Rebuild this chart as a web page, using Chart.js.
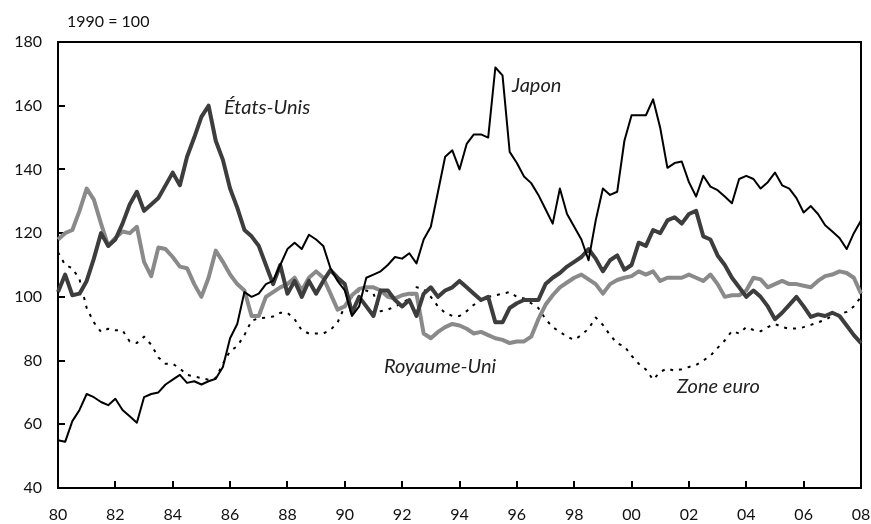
<!DOCTYPE html>
<html>
<head>
<meta charset="utf-8">
<script src="https://cdn.jsdelivr.net/npm/chart.js@4/dist/chart.umd.min.js"></script>
<style>
  html, body { margin: 0; padding: 0; background: #fff; }
  #wrap { width: 871px; height: 524px; position: relative; }
</style>
</head>
<body>
<div id="wrap"><canvas id="c" width="871" height="524"></canvas></div>
<script>
// Quarterly observations, 1980 T1 to 2008 T1 (index 1990 = 100)
const quarters = [];
for (let yr = 1980; yr <= 2008; yr++) {
  for (let q = 1; q <= 4; q++) {
    if (yr === 2008 && q > 1) break;
    quarters.push(yr + ' T' + q);
  }
}
const yearTickLabels = ['80','82','84','86','88','90','92','94','96','98','00','02','04','06','08'];

const etatsUnis = [
  101.5, 107, 100.5, 101,
  105, 112, 120, 116,
  118, 123, 129, 133,
  127, 129, 131, 135,
  139, 135, 144, 150,
  156.5, 160, 149, 143,
  134, 128, 121, 119,
  116, 110, 104, 110,
  101, 105, 100, 105,
  101, 105, 108.4, 106,
  104, 95, 100, 97,
  94, 102, 102, 99,
  97, 99, 94, 101,
  103, 100, 102, 103,
  105, 103, 101, 99,
  100, 92, 92, 96.5,
  98, 99, 99, 99,
  104, 106, 107.5, 109.5,
  111, 112.5, 115, 112,
  108, 111.5, 113, 108.5,
  110, 117, 116, 121,
  120, 124, 125, 123,
  126, 127, 119, 118,
  113, 110, 106, 103,
  100, 102, 100, 97,
  93, 95, 97.5, 100,
  97, 93.7, 94.5, 94,
  95, 94, 91, 88,
  85.5
];

const royaumeUni = [
  118, 120, 121, 127,
  134, 130.5, 123, 116,
  118.5, 120.5, 120, 122,
  111, 106.5, 115.5, 115,
  112.5, 109.5, 109, 104,
  100, 106, 114.5, 111,
  107, 104, 102, 94,
  94, 100, 101.5, 103,
  104, 106, 102, 106,
  108, 106, 101, 96,
  97, 100.5, 102.5, 103,
  103, 102, 100, 99.5,
  100.5, 101, 101, 88.5,
  87, 89, 90.5, 91.5,
  91, 90, 88.5, 89,
  88, 87, 86.5, 85.5,
  86, 86, 87.5, 93,
  97.5, 100.5, 103, 104.5,
  106, 107, 105.5, 104,
  101, 104, 105.3, 106,
  106.5, 108, 107, 108,
  105, 106, 106, 106,
  107, 106, 105, 107,
  104, 100, 100.5, 100.5,
  102, 106, 105.5, 103,
  104, 105, 104, 104,
  103.5, 103, 105, 106.5,
  107, 108, 107.5, 106,
  101
];

const japon = [
  55, 54.5, 61, 64.5,
  69.5, 68.5, 67, 66,
  68, 64.5, 62.5, 60.5,
  68.5, 69.5, 70, 72.5,
  74, 75.5, 73, 73.5,
  72.5, 73.5, 74.3, 78,
  87, 91.5, 101.5, 100,
  101, 104, 105, 110,
  115, 117, 115, 119.5,
  118, 116, 109, 105,
  102, 94, 97, 106,
  107, 108, 110, 112.5,
  112, 113.7, 110.5, 118,
  122, 133, 144, 146,
  140, 148, 151, 151,
  150, 172, 169.5, 145.5,
  142, 137.8, 135.7, 132,
  127.5, 123, 134, 126,
  122, 118, 111.5, 124,
  134, 132, 133, 149,
  157, 157, 157, 162,
  153, 140.5, 142, 142.5,
  136, 131.5, 138, 134.6,
  133.5, 131.5, 129.4, 137,
  138, 137, 134, 136,
  139, 135, 134, 131,
  126.5, 128.5, 126, 122.5,
  120.5, 118.5, 115, 120,
  124
];

const zoneEuro = [
  114, 110, 109, 105.5,
  96.5, 92, 89, 90,
  89.5, 89.5, 86, 85.5,
  87.5, 85, 81, 79,
  79, 77.5, 75.5, 75,
  74.5, 74, 74.5, 79,
  83, 84.5, 88, 92.5,
  93.3, 93.5, 93.8, 95,
  95, 93, 89.5, 88.5,
  88.5, 88.5, 89.6, 92,
  97, 100, 102, 102,
  101, 95.5, 96, 97,
  98, 99.5, 103, 102.5,
  100, 97, 95, 94,
  94, 95.5, 97.5, 99,
  100, 100.5, 101, 101.5,
  100, 99.5, 98, 96.5,
  93, 90.5, 89, 87.5,
  86.5, 88, 90, 93.5,
  91.2, 88, 85.4, 84.5,
  81.5, 79, 77.2, 74,
  76.5, 77.5, 76.8, 77.3,
  78, 78.6, 80, 81.5,
  84, 86.3, 89.3, 88.5,
  90.5, 89.6, 89.2, 90.5,
  91.5, 90.5, 90, 90.1,
  90.5, 91.2, 92, 92.8,
  94, 94.6, 95.3, 97,
  100
];

const FONT = 'Lato, "Open Sans", "DejaVu Sans", sans-serif';
const INK = '#111111';

const notesPlugin = {
  id: 'notes',
  afterDraw(chart) {
    const { ctx } = chart;
    ctx.save();
    ctx.fillStyle = INK;
    ctx.font = '16px ' + FONT;
    ctx.textBaseline = 'alphabetic';
    ctx.textAlign = 'left';
    ctx.fillText('1990 = 100', 67, 27);

    ctx.font = 'italic 20px ' + FONT;
    ctx.fillStyle = '#222';
    const notes = [
      [0, 224, 114],
      [2, 512, 92],
      [1, 384, 373],
      [3, 677, 393]
    ];
    notes.forEach(([di, px, py]) => {
      ctx.fillText(chart.data.datasets[di].label, px, py);
    });
    ctx.restore();
  }
};

const frameBorder = { display: true, color: '#000', width: 2 };

new Chart(document.getElementById('c'), {
  type: 'line',
  data: {
    labels: quarters,
    datasets: [
      { label: 'États-Unis', data: etatsUnis, borderColor: '#3d3d3d', borderWidth: 4, order: 2 },
      { label: 'Royaume-Uni', data: royaumeUni, borderColor: '#8a8a8a', borderWidth: 4, order: 3 },
      { label: 'Japon', data: japon, borderColor: '#000', borderWidth: 2, order: 1 },
      { label: 'Zone euro', data: zoneEuro, borderColor: '#000', borderWidth: 2, borderDash: [3, 6], order: 4 }
    ]
  },
  options: {
    responsive: false,
    animation: false,
    devicePixelRatio: 1,
    layout: { autoPadding: false, padding: { top: 42, right: 10, left: 0, bottom: 0 } },
    elements: { point: { radius: 0 }, line: { tension: 0, borderCapStyle: 'butt', borderJoinStyle: 'round' } },
    plugins: { legend: { display: false }, tooltip: { enabled: false }, title: { display: false } },
    scales: {
      x: {
        type: 'category',
        position: 'bottom',
        border: frameBorder,
        grid: {
          display: true,
          drawOnChartArea: false,
          drawTicks: true,
          tickLength: -7,
          lineWidth: 2,
          color: c => (c.index % 8 === 0 ? '#000' : 'rgba(0,0,0,0)')
        },
        ticks: {
          autoSkip: false,
          maxRotation: 0,
          minRotation: 0,
          padding: 24,
          color: INK,
          font: { family: FONT, size: 16 },
          callback: (v, i) => (i % 8 === 0 ? yearTickLabels[i / 8] : '')
        },
        afterFit: s => { s.height = 36; s.paddingLeft = 0; s.paddingRight = 0; }
      },
      y: {
        position: 'left',
        min: 40, max: 180,
        border: frameBorder,
        grid: {
          display: true,
          drawOnChartArea: false,
          drawTicks: true,
          tickLength: -7,
          lineWidth: 2,
          color: '#000'
        },
        ticks: {
          stepSize: 20,
          padding: 23,
          color: INK,
          font: { family: FONT, size: 16 }
        },
        afterFit: s => { s.width = 58; s.paddingTop = 0; s.paddingBottom = 0; }
      },
      xTop: {
        type: 'category',
        position: 'top',
        display: true,
        border: frameBorder,
        grid: { display: false },
        ticks: { display: false },
        afterFit: s => { s.height = 0; s.paddingLeft = 0; s.paddingRight = 0; }
      },
      yRight: {
        type: 'linear',
        position: 'right',
        display: true,
        min: 40, max: 180,
        border: frameBorder,
        grid: { display: false },
        ticks: { display: false },
        afterFit: s => { s.width = 0; s.paddingTop = 0; s.paddingBottom = 0; }
      }
    }
  },
  plugins: [notesPlugin]
});
</script>
</body>
</html>
